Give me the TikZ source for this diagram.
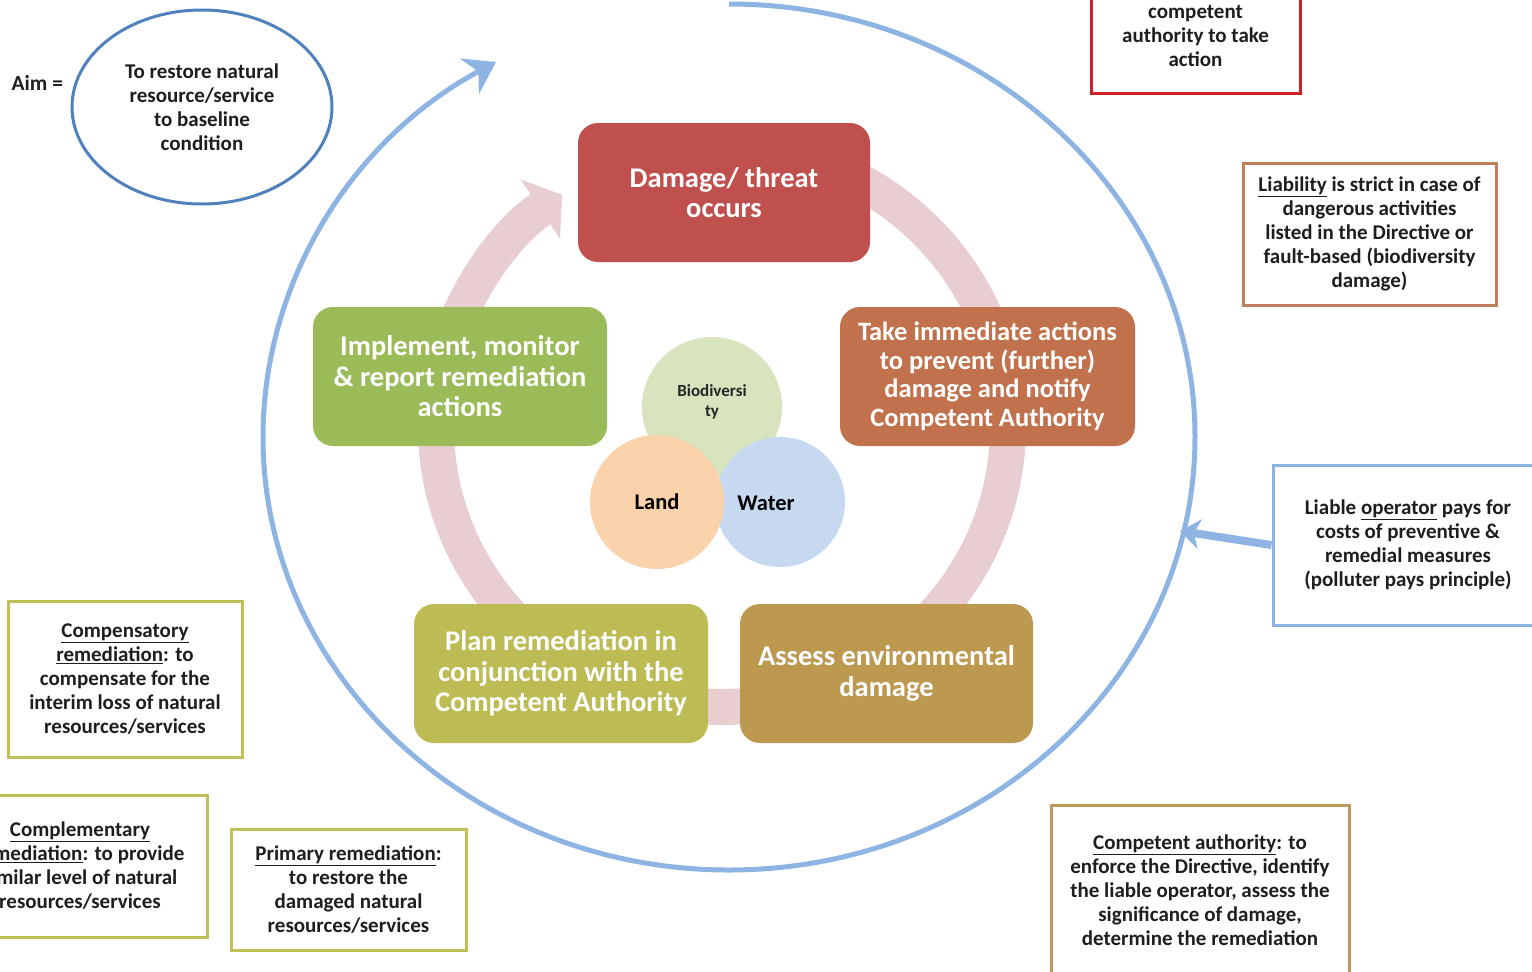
\documentclass[tikz,border=0pt]{standalone}
\usepackage{fontspec}
\setmainfont{Carlito}
\usetikzlibrary{arrows.meta,positioning,shapes.geometric}

\definecolor{damagered}{RGB}{192,80,77}
\definecolor{takebrown}{RGB}{193,114,76}
\definecolor{assessgold}{RGB}{189,153,80}
\definecolor{planolive}{RGB}{189,187,84}
\definecolor{implgreen}{RGB}{155,187,89}
\definecolor{ringpink}{RGB}{232,206,209}
\definecolor{arcblue}{RGB}{141,180,226}
\definecolor{aimblue}{RGB}{79,129,189}
\definecolor{alertred}{RGB}{204,32,40}
\definecolor{liabbrown}{RGB}{190,128,92}
\definecolor{remolive}{RGB}{192,192,86}
\definecolor{authgold}{RGB}{190,152,92}
\definecolor{biogreen}{RGB}{215,228,189}
\definecolor{landpeach}{RGB}{250,211,172}
\definecolor{waterblue}{RGB}{198,217,240}
\definecolor{notetext}{RGB}{30,30,30}

\tikzset{
  stage/.style={rounded corners=20pt, fill=#1, text=white, align=center,
    minimum height=139pt, inner sep=0pt, font=\fontsize{28.5}{30.5}\selectfont\bfseries},
  note/.style={draw=#1, line width=3pt, align=center, text=notetext, inner sep=0pt,
    font=\fontsize{21}{24}\selectfont\bfseries},
  medium/.style={circle, fill=#1, inner sep=0pt, text=black,
    font=\fontsize{22.5}{24}\selectfont\bfseries},
  ringband/.style={draw=ringpink, line width=36pt},
  bluearc/.style={draw=arcblue, line width=5pt}
}

\begin{document}
\begin{tikzpicture}[x=1pt, y=-1pt]
\clip (0,0) rectangle (1532,972);
\useasboundingbox (0,0) rectangle (1532,972);

% hubs of the two rings
\coordinate (hub) at (729,437);
\coordinate (ringc) at (722,427);

% outer blue arc
\draw[bluearc, -{Stealth[length=30pt, width=40pt, inset=10pt]}]
  (hub) ++(270:466 and 433) arc[start angle=270, end angle=600, x radius=466, y radius=433];

% pink cycle band
\draw[ringband, -{Triangle[length=26pt, width=70pt]}]
  (ringc) ++(200:286 and 280) arc[start angle=200, end angle=236, x radius=286, y radius=280];
\draw[ringband] (ringc) ++(298:286 and 280) arc[start angle=298, end angle=340, x radius=286, y radius=280];
\draw[ringband] (ringc) ++(0:286 and 280) arc[start angle=0, end angle=45, x radius=286, y radius=280];
\draw[ringband] (ringc) ++(80:286 and 280) arc[start angle=80, end angle=100, x radius=286, y radius=280];
\draw[ringband] (ringc) ++(130:286 and 280) arc[start angle=130, end angle=180, x radius=286, y radius=280];

% stages
\node[stage=damagered, minimum width=292pt] (damage) at (724,192.5) {Damage/ threat\\occurs};
\node[stage=takebrown, minimum width=295pt, font=\fontsize{26.5}{28.5}\selectfont\bfseries] (take) at (987.5,376.5)
  {Take immediate actions\\to prevent (further)\\damage and notify\\Competent Authority};
\node[stage=assessgold, minimum width=293pt] (assess) at (886.5,673.5) {Assess environmental\\damage};
\node[stage=planolive, minimum width=294pt] (plan) at (561,673.5)
  {Plan remediation in\\conjunction with the\\Competent Authority};
\node[stage=implgreen, minimum width=294pt] (implement) at (460,376.5)
  {Implement, monitor\\\& report remediation\\actions};

% media
\node[medium=biogreen, minimum size=140pt] (biodiv) at (712,407) {};
\node[align=center, text=black!85, font=\fontsize{17}{20}\selectfont\bfseries] (biotext) at (712,402) {Biodiversi\\ty};
\node[medium=waterblue, minimum size=130pt] (water) at (780,502) {};
\node[medium=landpeach, minimum size=134pt] (land) at (657,502) {Land};
\node[font=\fontsize{22.5}{24}\selectfont\bfseries] (watertext) at (766,503) {Water};

% aim
\node[ellipse, draw=aimblue, line width=3pt, minimum width=260pt, minimum height=194pt, align=center,
  text=notetext, font=\fontsize{21}{24}\selectfont\bfseries, inner sep=0pt] (aim) at (202,107)
  {To restore natural\\resource/service\\to baseline\\condition};
\node[text=notetext, font=\fontsize{21.5}{24}\selectfont\bfseries, left=4pt of aim.west, yshift=24pt] (aimlabel) {Aim =};

% side notes
\node[note=alertred, minimum width=209pt, minimum height=114pt] (alert) at (1195.5,36)
  {competent\\authority to take\\action};
\node[note=liabbrown, minimum width=253pt, minimum height=142pt] (liability) at (1369.5,234)
  {\underline{Liability} is strict in case of\\dangerous activities\\listed in the Directive or\\fault-based (biodiversity\\damage)};
\node[note=arcblue, minimum width=270pt, minimum height=160pt] (operator) at (1408,545)
  {Liable \underline{operator} pays for\\costs of preventive \&\\remedial measures\\(polluter pays principle)};
\node[note=remolive, minimum width=234pt, minimum height=156pt] (compensatory) at (125,679)
  {\underline{Compensatory}\\\underline{remediation}: to\\compensate for the\\interim loss of natural\\resources/services};
\node[note=remolive, minimum width=254pt, minimum height=142pt] (complementary) at (80,866)
  {\underline{Complementary}\\\underline{remediation}: to provide\\similar level of natural\\resources/services};
\node[note=remolive, minimum width=235pt, minimum height=121pt] (primary) at (348.5,889.5)
  {\underline{Primary remediation}:\\to restore the\\damaged natural\\resources/services};
\node[note=authgold, minimum width=298pt, minimum height=170pt] (authority) at (1200,890)
  {\underline{Competent authority}: to\\enforce the Directive, identify\\the liable operator, assess the\\significance of damage,\\determine the remediation};

% operator feeds the cycle
\coordinate (optip) at (1180,531);
\draw[draw=arcblue, line width=8pt, -{Stealth[length=20pt, width=30pt, inset=6pt]}] (operator.west) -- (optip);

\end{tikzpicture}
\end{document}
